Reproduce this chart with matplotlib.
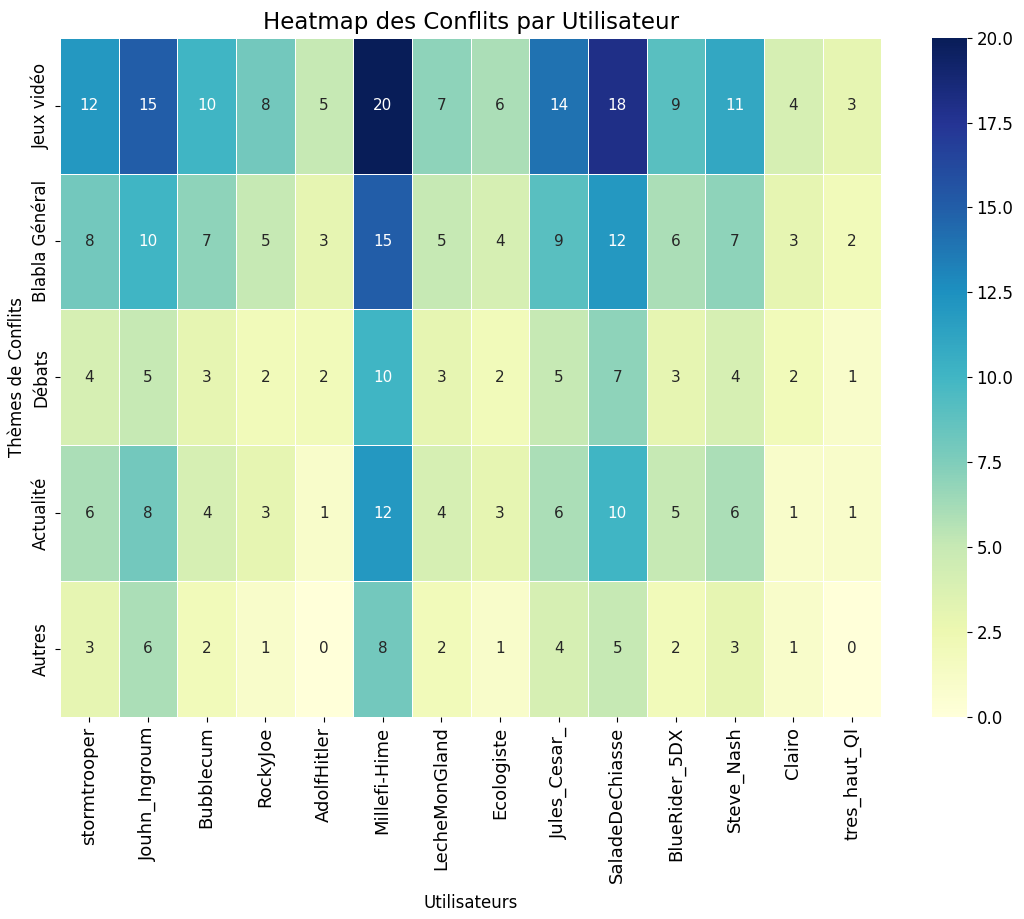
import matplotlib
matplotlib.use("Agg")
import matplotlib.pyplot as plt
import seaborn as sns
import pandas as pd

utilisateurs = ["stormtrooper", "Jouhn_Ingroum", "Bubblecum", "RockyJoe", "AdolfHitler",
                "Millefi-Hime", "LecheMonGland", "Ecologiste", "Jules_Cesar_",
                "SaladeDeChiasse", "BlueRider_5DX", "Steve_Nash", "Clairo", "tres_haut_QI"]
themes = ["Jeux vidéo", "Blabla Général", "Débats", "Actualité", "Autres"]

jeux_video = [12, 15, 10, 8, 5, 20, 7, 6, 14, 18, 9, 11, 4, 3]
blabla = [8, 10, 7, 5, 3, 15, 5, 4, 9, 12, 6, 7, 3, 2]
debats = [4, 5, 3, 2, 2, 10, 3, 2, 5, 7, 3, 4, 2, 1]
actualite = [6, 8, 4, 3, 1, 12, 4, 3, 6, 10, 5, 6, 1, 1]
autres = [3, 6, 2, 1, 0, 8, 2, 1, 4, 5, 2, 3, 1, 0]

df = pd.DataFrame([jeux_video, blabla, debats, actualite, autres],
                  index=themes, columns=utilisateurs)

fig = plt.figure(figsize=(10.24, 9.19), dpi=100)
ax = fig.add_axes([0.0586, 0.22, 0.802, 0.739])
cax = fig.add_axes([0.910, 0.22, 0.034, 0.739])

sns.heatmap(df, annot=True, fmt="d", cmap="YlGnBu", linewidths=0.6, linecolor="white",
            ax=ax, cbar_ax=cax, annot_kws={"size": 11})

ax.set_title("Heatmap des Conflits par Utilisateur", fontsize=16.5)
ax.set_xlabel("Utilisateurs", fontsize=12, labelpad=8)
ax.set_ylabel("Thèmes de Conflits", fontsize=12)
ax.tick_params(axis="x", labelsize=13, rotation=90)
ax.tick_params(axis="y", labelsize=12, rotation=90)
for lab in ax.get_yticklabels():
    lab.set_va("center")
cax.tick_params(labelsize=12)

fig.savefig("out.png", dpi=100)
